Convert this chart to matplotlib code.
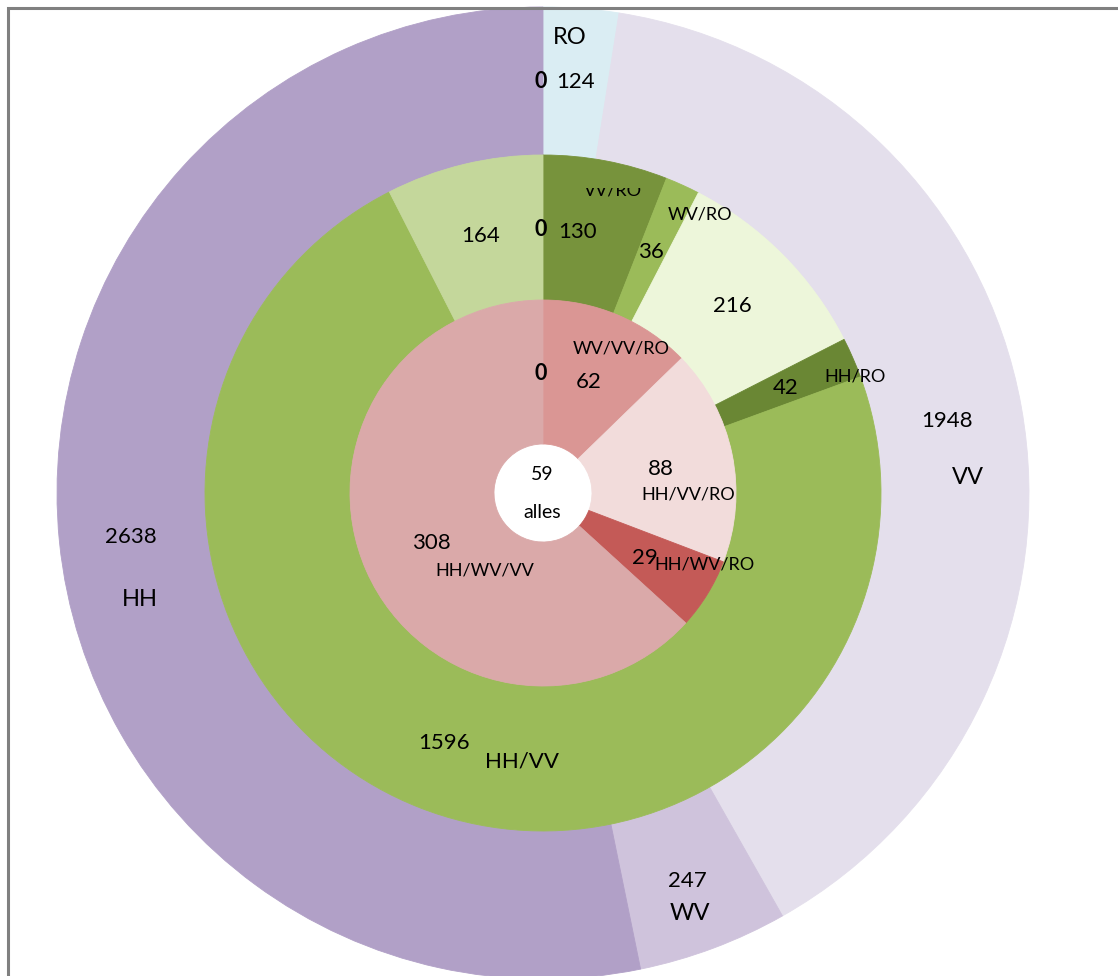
"""
Three-ring breakdown chart (alles / combinations / single sources).
"""

import matplotlib
matplotlib.use("Agg")
import matplotlib.pyplot as plt
from matplotlib.patches import Rectangle
from matplotlib.transforms import Bbox, TransformedBbox

plt.rcParams["font.family"] = ["Lato", "DejaVu Sans"]

# ---------------------------------------------------------------------------
# Data
# ---------------------------------------------------------------------------

outer_names = ["", "RO", "VV", "WV", "HH"]
outer_values = [0, 124, 1948, 247, 2638]
outer_colors = ["#B1A0C7", "#DAEDF3", "#E4DFEC", "#CFC3DC", "#B1A0C7"]

middle_names = ["", "VV/RO", "WV/RO", "", "HH/RO", "HH/VV", ""]
middle_values = [0, 130, 36, 216, 42, 1596, 164]
middle_colors = ["#77933C", "#77933C", "#9BBB59", "#EDF6DA",
                 "#6A8734", "#9BBB59", "#C4D79B"]

inner_names = ["", "WV/VV/RO", "HH/VV/RO", "HH/WV/RO", "HH/WV/VV"]
inner_values = [0, 62, 88, 29, 308]
inner_colors = ["#DA9694", "#DA9694", "#F2DCDB", "#C45A57", "#DAA9A9"]

center_value = 59
center_name = "alles"

# ---------------------------------------------------------------------------
# Layout (pixels, image coordinates)
# ---------------------------------------------------------------------------

W, H = 1118, 976
CX, CY = 543, 493
R_OUT, R_MID, R_IN, R_HOLE = 486, 338, 193, 49

# (value label xy, name label xy) per slice; None = no label
outer_pos = [((541, 82), None), ((576, 82), (570, 38)), ((947, 421), (968, 478)),
             ((687, 881), (690, 914)), ((131, 537), (140, 599))]
middle_pos = [((541, 229), None), ((578, 232), (613, 190)), ((651, 252), (700, 214)),
              ((732, 306), None), ((786, 388), (855, 376)),
              ((444, 743), (522, 762)), ((481, 236), None)]
inner_pos = [((541, 373), None), ((589, 382), (621, 348)), ((661, 469), (688, 494)),
             ((645, 558), (705, 565)), ((431, 543), (485, 570))]

# a few labels are set larger than the rest of their ring
big_names = {"HH/VV": 16}
CUT_Y = 188  # the VV/RO label is cut off above this line in the original


def to_data(xy):
    return xy[0], H - xy[1]


fig = plt.figure(figsize=(W / 100, H / 100), dpi=100)
ax = fig.add_axes([0, 0, 1, 1])

center = (CX, H - CY)
rings = [
    (outer_values, outer_colors, R_OUT, R_OUT - R_MID),
    (middle_values, middle_colors, R_MID, R_MID - R_IN),
    (inner_values, inner_colors, R_IN, R_IN - R_HOLE),
]
for values, colors, radius, width in rings:
    wedges, _ = ax.pie(values, colors=colors, radius=radius, center=center,
                       startangle=90, counterclock=False, normalize=True,
                       wedgeprops=dict(width=width, linewidth=0.6))
    for w in wedges:
        w.set_edgecolor(w.get_facecolor())

ax.set_xlim(0, W)
ax.set_ylim(0, H)
ax.set_aspect("equal")
ax.axis("off")

# frame (only top and left edges fall inside the image)
ax.add_patch(Rectangle((8, -20), W + 40, H - 8 + 20, fill=False,
                       edgecolor="#808080", linewidth=2.2, zorder=5))


def put(xy, text, size, weight="normal"):
    x, y = to_data(xy)
    return ax.text(x, y, text, ha="center", va="center", fontsize=size,
                   fontweight=weight, color="black", zorder=6)


def label_ring(values, names, positions, num_size, name_size):
    for v, n, (vxy, nxy) in zip(values, names, positions):
        if v == 0:
            put(vxy, "0", num_size - 0.5, "bold")
            continue
        put(vxy, str(v), num_size)
        if nxy is not None:
            t = put(nxy, n, big_names.get(n, name_size))
            if n == "VV/RO":
                t.set_clip_on(True)
                t.set_clip_box(TransformedBbox(
                    Bbox([[0, 0], [W, H - CUT_Y]]), ax.transData))


label_ring(outer_values, outer_names, outer_pos, 16, 17)
label_ring(middle_values, middle_names, middle_pos, 16, 13)
label_ring(inner_values, inner_names, inner_pos, 16, 13)

# centre hole labels
put((542, 474), str(center_value), 14)
put((542, 513), center_name, 14)

fig.savefig("out.png", dpi=100, facecolor="white")
